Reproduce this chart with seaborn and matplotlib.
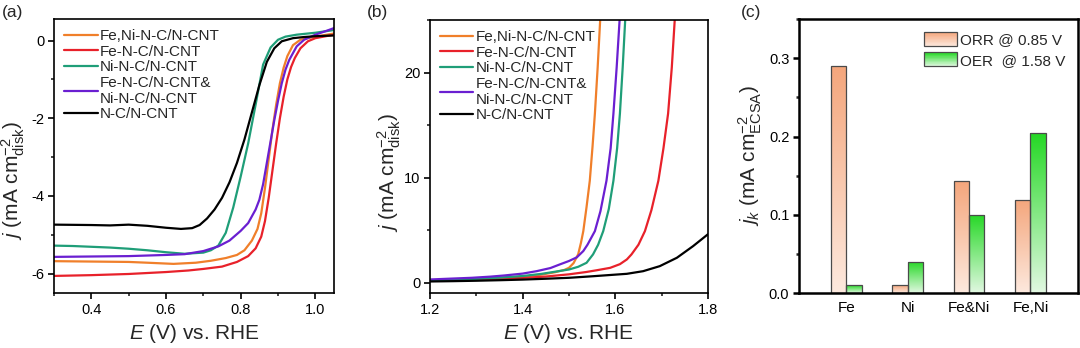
import numpy as np
import pandas as pd
import matplotlib
matplotlib.use("Agg")
import matplotlib.pyplot as plt
import seaborn as sns
from matplotlib.ticker import MultipleLocator, FormatStrFormatter
from matplotlib.colors import LinearSegmentedColormap
from matplotlib.patches import Rectangle, Patch
from matplotlib.legend_handler import HandlerBase

sns.set_theme(style="ticks")
plt.rcParams["font.family"] = ["Liberation Sans", "DejaVu Sans"]
plt.rcParams["mathtext.fontset"] = "custom"
plt.rcParams["mathtext.rm"] = "Liberation Sans"
plt.rcParams["mathtext.it"] = "Liberation Sans:italic"
plt.rcParams["mathtext.bf"] = "Liberation Sans:bold"
plt.rcParams["axes.unicode_minus"] = False

# ---------------- series names and colours ----------------
names = ["Fe,Ni-N-C/N-CNT", "Fe-N-C/N-CNT", "Ni-N-C/N-CNT",
         "Fe-N-C/N-CNT&\nNi-N-C/N-CNT", "N-C/N-CNT"]
colors = ["#f07f2a", "#e8212a", "#1f9e78", "#6a1fd1", "#000000"]

# ---------------- (a) ORR polarisation curves ----------------
orr_E_feni = [0.30, 0.40, 0.50, 0.55, 0.62, 0.68, 0.72, 0.76, 0.79, 0.81, 0.83, 0.845,
              0.855, 0.865, 0.875, 0.885, 0.895, 0.905, 0.915, 0.925, 0.94, 0.96, 1.00, 1.05]
orr_j_feni = [-5.68, -5.69, -5.70, -5.72, -5.75, -5.72, -5.67, -5.60, -5.52, -5.40, -5.15, -4.85,
              -4.45, -3.80, -3.05, -2.30, -1.65, -1.10, -0.70, -0.40, -0.12, 0.02, 0.10, 0.18]

orr_E_fe = [0.30, 0.40, 0.50, 0.60, 0.66, 0.70, 0.75, 0.79, 0.82, 0.84, 0.855, 0.865,
            0.875, 0.885, 0.895, 0.905, 0.915, 0.925, 0.935, 0.945, 0.96, 0.98, 1.00, 1.05]
orr_j_fe = [-6.06, -6.04, -6.01, -5.96, -5.92, -5.88, -5.82, -5.70, -5.55, -5.35, -5.05, -4.65,
            -4.05, -3.35, -2.65, -2.00, -1.45, -1.00, -0.68, -0.45, -0.20, -0.02, 0.06, 0.15]

orr_E_ni = [0.30, 0.35, 0.40, 0.45, 0.50, 0.55, 0.60, 0.65, 0.70, 0.72, 0.74, 0.76,
            0.78, 0.80, 0.82, 0.84, 0.86, 0.88, 0.90, 0.92, 0.95, 1.00, 1.05]
orr_j_ni = [-5.28, -5.29, -5.31, -5.33, -5.36, -5.40, -5.45, -5.49, -5.46, -5.40, -5.28, -4.95,
            -4.30, -3.50, -2.65, -1.65, -0.62, -0.18, 0.02, 0.10, 0.15, 0.20, 0.27]

orr_E_mix = [0.30, 0.40, 0.50, 0.60, 0.65, 0.70, 0.74, 0.77, 0.80, 0.82, 0.84, 0.85, 0.86,
             0.87, 0.88, 0.89, 0.90, 0.91, 0.92, 0.93, 0.95, 0.97, 1.00, 1.03, 1.05]
orr_j_mix = [-5.57, -5.56, -5.55, -5.52, -5.50, -5.42, -5.30, -5.15, -4.90, -4.70, -4.35, -4.10,
             -3.70, -3.15, -2.60, -2.05, -1.55, -1.10, -0.75, -0.50, -0.15, 0.02, 0.15, 0.25, 0.32]

orr_E_nc = [0.30, 0.40, 0.45, 0.50, 0.55, 0.60, 0.64, 0.67, 0.69, 0.71, 0.73, 0.75,
            0.77, 0.79, 0.81, 0.83, 0.85, 0.87, 0.89, 0.91, 0.94, 0.97, 1.00, 1.05]
orr_j_nc = [-4.74, -4.75, -4.76, -4.74, -4.77, -4.82, -4.85, -4.83, -4.75, -4.58, -4.35, -4.05,
            -3.65, -3.15, -2.55, -1.85, -1.15, -0.55, -0.20, -0.02, 0.06, 0.09, 0.11, 0.13]

# ---------------- (b) OER polarisation curves ----------------
oer_E_feni = [1.20, 1.25, 1.30, 1.35, 1.40, 1.44, 1.47, 1.49, 1.50, 1.51, 1.52, 1.526,
              1.531, 1.538, 1.545, 1.551, 1.556, 1.562, 1.568]
oer_j_feni = [0.18, 0.24, 0.32, 0.42, 0.56, 0.75, 0.98, 1.20, 1.40, 1.85, 2.70, 3.80,
              4.90, 7.20, 9.70, 13.0, 16.1, 20.5, 25.5]

oer_E_fe = [1.20, 1.25, 1.30, 1.35, 1.40, 1.45, 1.50, 1.537, 1.56, 1.589, 1.61, 1.625,
            1.635, 1.65, 1.664, 1.678, 1.693, 1.704, 1.714, 1.722, 1.729]
oer_j_fe = [0.15, 0.20, 0.26, 0.34, 0.44, 0.57, 0.78, 1.00, 1.17, 1.40, 1.75, 2.20,
            2.68, 3.60, 4.90, 6.90, 9.70, 12.8, 16.1, 20.5, 25.5]

oer_E_ni = [1.20, 1.25, 1.30, 1.35, 1.40, 1.44, 1.47, 1.50, 1.52, 1.538, 1.552, 1.563,
            1.574, 1.586, 1.596, 1.604, 1.610, 1.616, 1.622]
oer_j_ni = [0.20, 0.27, 0.35, 0.47, 0.62, 0.82, 1.03, 1.24, 1.50, 1.88, 2.68, 3.60,
            4.90, 7.00, 9.70, 12.8, 16.1, 20.5, 25.5]

oer_E_mix = [1.20, 1.25, 1.29, 1.33, 1.36, 1.40, 1.43, 1.46, 1.48, 1.50, 1.517, 1.531,
             1.54, 1.556, 1.568, 1.581, 1.590, 1.596, 1.603, 1.610]
oer_j_mix = [0.29, 0.38, 0.45, 0.56, 0.67, 0.85, 1.08, 1.38, 1.72, 2.05, 2.40, 3.00,
             3.60, 4.90, 6.80, 9.70, 12.8, 16.1, 20.5, 25.5]

oer_E_nc = [1.20, 1.25, 1.30, 1.35, 1.40, 1.45, 1.50, 1.552, 1.59, 1.625, 1.66, 1.696,
            1.733, 1.768, 1.80]
oer_j_nc = [0.10, 0.13, 0.17, 0.22, 0.28, 0.36, 0.45, 0.60, 0.72, 0.83, 1.08, 1.56,
            2.36, 3.47, 4.60]

# ---------------- (c) kinetic current densities ----------------
catalysts = ["Fe", "Ni", "Fe&Ni", "Fe,Ni"]
jk_orr = [0.290, 0.010, 0.143, 0.119]
jk_oer = [0.010, 0.040, 0.100, 0.204]
reactions = ["ORR @ 0.85 V", "OER  @ 1.58 V"]

orr_curves = [(orr_E_feni, orr_j_feni), (orr_E_fe, orr_j_fe), (orr_E_ni, orr_j_ni),
              (orr_E_mix, orr_j_mix), (orr_E_nc, orr_j_nc)]
oer_curves = [(oer_E_feni, oer_j_feni), (oer_E_fe, oer_j_fe), (oer_E_ni, oer_j_ni),
              (oer_E_mix, oer_j_mix), (oer_E_nc, oer_j_nc)]

TICK_FS = 10.5
LABEL_FS = 15
LEG_FS = 11

fig = plt.figure(figsize=(10.8, 3.48), dpi=100)
ax_a = fig.add_axes([0.050, 0.158, 0.2593, 0.787])
ax_b = fig.add_axes([0.3981, 0.158, 0.2574, 0.784])
ax_c = fig.add_axes([0.7398, 0.158, 0.2583, 0.787])


def style_axes(ax, lw=1.2):
    for s in ax.spines.values():
        s.set_visible(True)
        s.set_linewidth(lw)
        s.set_color("black")
    ax.tick_params(which="major", direction="out", length=4, width=lw,
                   labelsize=TICK_FS, colors="black", pad=3)
    ax.tick_params(which="minor", direction="out", length=2.2, width=lw)
    ax.grid(False)


def draw_curves(ax, curves):
    for (E, j), name, c in zip(curves, names, colors):
        sns.lineplot(x=E, y=j, ax=ax, color=c, lw=1.6, label=name,
                     sort=False, estimator=None)
    ax.legend(loc="upper left", frameon=False, fontsize=LEG_FS,
              handlelength=2.2, handletextpad=0.12, labelspacing=0.1,
              borderaxespad=0.45, borderpad=0.2)


# (a)
draw_curves(ax_a, orr_curves)
ax_a.set_xlim(0.3, 1.05)
ax_a.set_ylim(-6.5, 0.55)
ax_a.xaxis.set_major_locator(MultipleLocator(0.2))
ax_a.xaxis.set_minor_locator(MultipleLocator(0.1))
ax_a.yaxis.set_major_locator(MultipleLocator(2))
ax_a.yaxis.set_minor_locator(MultipleLocator(1))
ax_a.xaxis.set_major_formatter(FormatStrFormatter("%.1f"))
ax_a.set_xlabel(r"$E$ (V) vs. RHE", fontsize=LABEL_FS)
ax_a.set_ylabel(r"$j$ (mA cm$^{-2}_{\mathrm{disk}}$)", fontsize=LABEL_FS)
style_axes(ax_a)

# (b)
draw_curves(ax_b, oer_curves)
ax_b.set_xlim(1.2, 1.8)
ax_b.set_ylim(-1, 25)
ax_b.xaxis.set_major_locator(MultipleLocator(0.2))
ax_b.xaxis.set_minor_locator(MultipleLocator(0.1))
ax_b.yaxis.set_major_locator(MultipleLocator(10))
ax_b.yaxis.set_minor_locator(MultipleLocator(5))
ax_b.xaxis.set_major_formatter(FormatStrFormatter("%.1f"))
ax_b.set_xlabel(r"$E$ (V) vs. RHE", fontsize=LABEL_FS)
ax_b.set_ylabel(r"$j$ (mA cm$^{-2}_{\mathrm{disk}}$)", fontsize=LABEL_FS)
style_axes(ax_b)

# (c) bars with vertical colour fades
cmaps = [LinearSegmentedColormap.from_list("orr", ["#fde9de", "#f4a67c"]),
         LinearSegmentedColormap.from_list("oer", ["#e2f8e2", "#25d825"])]
df_c = pd.DataFrame({
    "catalyst": catalysts * 2,
    "jk": jk_orr + jk_oer,
    "reaction": [reactions[0]] * 4 + [reactions[1]] * 4,
})
sns.barplot(data=df_c, x="catalyst", y="jk", hue="reaction", hue_order=reactions,
            order=catalysts, ax=ax_c, width=0.5, legend=False,
            edgecolor="#4a4a4a", linewidth=0.9, saturation=1)

fade = np.linspace(1, 0, 256).reshape(-1, 1)
for cont, cmap in zip(ax_c.containers, cmaps):
    for bar in cont:
        x0, y0 = bar.get_x(), bar.get_y()
        w, h = bar.get_width(), bar.get_height()
        im = ax_c.imshow(fade, extent=[x0, x0 + w, y0, y0 + h], origin="upper",
                         cmap=cmap, aspect="auto", zorder=bar.get_zorder(),
                         interpolation="bilinear")
        im.set_clip_path(bar)
        bar.set_facecolor("none")
        bar.set_zorder(bar.get_zorder() + 0.5)

ax_c.set_aspect("auto")
ax_c.set_xlim(-0.775, 3.775)
ax_c.set_ylim(0, 0.35)
ax_c.yaxis.set_major_locator(MultipleLocator(0.1))
ax_c.yaxis.set_minor_locator(MultipleLocator(0.05))
ax_c.yaxis.set_major_formatter(FormatStrFormatter("%.1f"))
ax_c.set_xlabel("")
ax_c.set_ylabel(r"$j_k$ (mA cm$^{-2}_{\mathrm{ECSA}}$)", fontsize=LABEL_FS)
style_axes(ax_c, lw=1.8)
ax_c.tick_params(axis="x", which="both", length=0, pad=6, labelsize=11)


class FadeHandler(HandlerBase):
    """Legend key drawn as a vertical colour fade inside a thin frame."""

    def __init__(self, cmap, **kw):
        super().__init__(**kw)
        self.cmap = cmap

    def create_artists(self, legend, orig_handle, xdescent, ydescent,
                       width, height, fontsize, trans):
        n = 24
        arts = []
        for i in range(n):
            arts.append(Rectangle((-xdescent, -ydescent + i * height / n), width,
                                  height / n + 0.05, facecolor=self.cmap(i / (n - 1)),
                                  edgecolor="none", transform=trans))
        arts.append(Rectangle((-xdescent, -ydescent), width, height, facecolor="none",
                              edgecolor="#4a4a4a", lw=0.9, transform=trans))
        return arts


h_orr = Patch(label=reactions[0])
h_oer = Patch(label=reactions[1])
ax_c.legend(handles=[h_orr, h_oer], labels=reactions, loc="upper right",
            frameon=False, fontsize=LEG_FS, handlelength=2.1, handleheight=1.05,
            handletextpad=0.2, labelspacing=0.32, borderaxespad=0.55, borderpad=0.3,
            handler_map={h_orr: FadeHandler(cmaps[0]), h_oer: FadeHandler(cmaps[1])})

# label placement
ax_a.xaxis.set_label_coords(0.5, -0.105)
ax_b.xaxis.set_label_coords(0.5, -0.105)
ax_a.yaxis.set_label_coords(-0.095, 0.41)
ax_b.yaxis.set_label_coords(-0.098, 0.44)
ax_c.yaxis.set_label_coords(-0.125, 0.50)

for x, t in [(0.002, "(a)"), (0.340, "(b)"), (0.686, "(c)")]:
    fig.text(x, 0.985, t, fontsize=12.5, va="top", ha="left")

fig.savefig("out.png", dpi=100)
